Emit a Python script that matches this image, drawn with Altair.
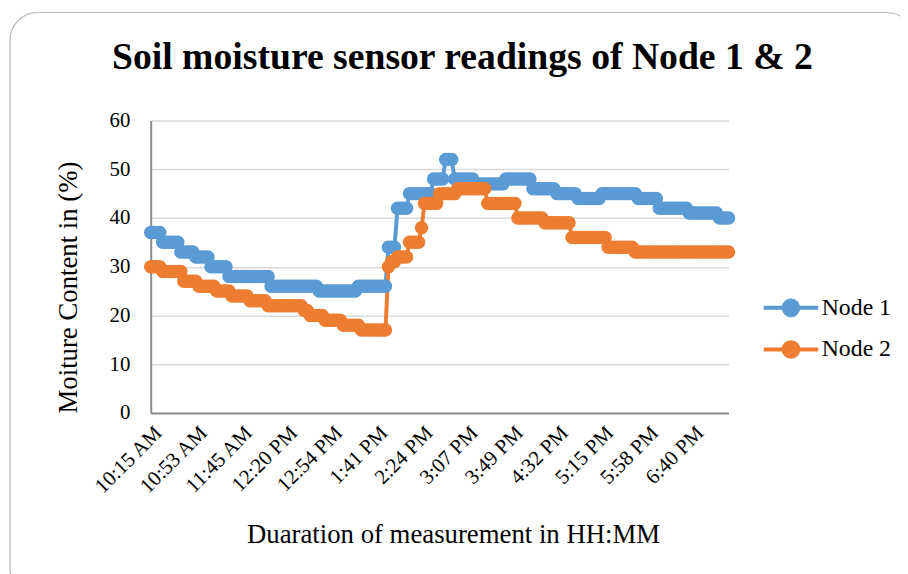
import altair as alt
import pandas as pd

# ---- data ----
series_names = ["Node 1", "Node 2"]
series_colors = ["#5B9BD5", "#ED7D31"]

node1 = [
    37, 37, 37, 37,
    35, 35, 35, 35, 35, 35,
    33, 33, 33, 33, 33,
    32, 32, 32, 32, 32,
    30, 30, 30, 30, 30, 30,
    28, 28, 28, 28, 28, 28, 28, 28, 28, 28, 28, 28, 28, 28,
    26, 26, 26, 26, 26, 26, 26, 26, 26, 26, 26, 26, 26, 26, 26, 26,
    25, 25, 25, 25, 25, 25, 25, 25, 25, 25, 25, 25, 25,
    26, 26, 26, 26, 26, 26, 26, 26, 26, 26,
    34, 34, 34,
    42, 42, 42, 42,
    45, 45, 45, 45, 45, 45, 45, 45,
    48, 48, 48, 48,
    52, 52, 52,
    48, 48, 48, 48, 48, 48, 48,
    47, 47, 47, 47, 47, 47, 47, 47, 47, 47,
    48, 48, 48, 48, 48, 48, 48, 48, 48,
    46, 46, 46, 46, 46, 46, 46, 46,
    45, 45, 45, 45, 45, 45, 45,
    44, 44, 44, 44, 44, 44, 44, 44,
    45, 45, 45, 45, 45, 45, 45, 45, 45, 45, 45, 45,
    44, 44, 44, 44, 44, 44, 44,
    42, 42, 42, 42, 42, 42, 42, 42, 42, 42,
    41, 41, 41, 41, 41, 41, 41, 41, 41, 41,
    40, 40, 40, 40,
]

node2 = [
    30, 30, 30, 30,
    29, 29, 29, 29, 29, 29, 29,
    27, 27, 27, 27, 27,
    26, 26, 26, 26, 26, 26,
    25, 25, 25, 25, 25,
    24, 24, 24, 24, 24, 24,
    23, 23, 23, 23, 23, 23,
    22, 22, 22, 22, 22, 22, 22, 22, 22, 22, 22, 22,
    21, 21,
    20, 20, 20, 20, 20,
    19, 19, 19, 19, 19, 19,
    18, 18, 18, 18, 18, 18,
    17, 17, 17, 17, 17, 17, 17, 17, 17,
    30,
    31, 31,
    32, 32, 32, 32,
    35, 35, 35, 35,
    38,
    43, 43, 43, 43, 43,
    45, 45, 45, 45, 45, 45,
    46, 46, 46, 46, 46, 46, 46, 46, 46, 46,
    43, 43, 43, 43, 43, 43, 43, 43, 43, 43,
    40, 40, 40, 40, 40, 40, 40, 40, 40,
    39, 39, 39, 39, 39, 39, 39, 39, 39,
    36, 36, 36, 36, 36, 36, 36, 36, 36, 36, 36, 36,
    34, 34, 34, 34, 34, 34, 34, 34, 34,
    33, 33, 33, 33, 33, 33, 33, 33, 33, 33, 33, 33, 33, 33, 33, 33,
    33, 33, 33, 33, 33, 33, 33, 33, 33, 33, 33, 33, 33, 33, 33, 33,
]

tick_labels = ["10:15 AM", "10:53 AM", "11:45 AM", "12:20 PM", "12:54 PM",
               "1:41 PM", "2:24 PM", "3:07 PM", "3:49 PM", "4:32 PM",
               "5:15 PM", "5:58 PM", "6:40 PM"]
tick_index = [0, 15, 30, 45, 60, 75, 90, 105, 120, 135, 150, 165, 180]
y_ticks = [0, 10, 20, 30, 40, 50, 60]

rows = []
for name, vals in zip(series_names, [node1, node2]):
    for i, v in enumerate(vals):
        rows.append({"idx": i, "value": v, "series": name})
df = pd.DataFrame(rows)

FONT = "Liberation Serif"
W, H = 583, 295
label_expr = f"{tick_labels}[indexof({tick_index}, datum.value)]"

# legend symbol: a line with a dot in its middle
LEGEND_SYMBOL = "M-2,0L2,0M0.54,0A0.54,0.54,0,1,1,-0.54,0A0.54,0.54,0,1,1,0.54,0Z"


def make_legend():
    return alt.Legend(
        title=None,
        orient="none",
        legendX=630,
        legendY=173,
        symbolType=LEGEND_SYMBOL,
        symbolSize=756,
        symbolStrokeWidth=4,
        symbolOpacity=1,
        labelFont=FONT,
        labelFontSize=24,
        labelColor="#000000",
        labelOffset=15,
        rowPadding=10,
    )


series_scale = alt.Scale(domain=series_names, range=series_colors)

x = alt.X(
    "idx:Q",
    scale=alt.Scale(domain=[0, len(node1) - 1], nice=False, zero=False),
    axis=alt.Axis(
        values=tick_index,
        labelExpr=label_expr,
        labelAngle=315,
        labelAlign="right",
        labelBaseline="top",
        labelFont=FONT,
        labelFontSize=21,
        labelColor="#000000",
        labelPadding=9,
        labelOverlap=False,
        labelFlush=False,
        ticks=False,
        grid=False,
        domainColor="#8C8C8C",
        domainWidth=2,
        title="Duaration of measurement in HH:MM",
        titleFont=FONT,
        titleFontSize=27,
        titleFontWeight="normal",
        titleColor="#000000",
        titleX=305,
        titleY=131,
        titleBaseline="alphabetic",
    ),
)

y = alt.Y(
    "value:Q",
    scale=alt.Scale(domain=[0, 60], nice=False),
    axis=alt.Axis(
        values=y_ticks,
        labelFont=FONT,
        labelFontSize=21,
        labelColor="#000000",
        labelPadding=21,
        ticks=False,
        grid=True,
        gridColor="#D9D9D9",
        gridWidth=1.5,
        domainColor="#8C8C8C",
        domainWidth=2,
        title="Moiture Content in (%)",
        titleFont=FONT,
        titleFontSize=27,
        titleFontWeight="normal",
        titleColor="#000000",
        titleX=-75,
        titleY=168,
        titleBaseline="alphabetic",
        titleAngle=270,
    ),
)

frame = alt.Chart(pd.DataFrame({"f": [0]})).mark_rect(
    filled=False, stroke="#B4B4B4", strokeWidth=1.2, cornerRadius=28
).encode(
    x=alt.value(-142), x2=alt.value(770), y=alt.value(-109), y2=alt.value(480)
)

lines = alt.Chart(df).mark_line(strokeWidth=4).encode(
    x=x, y=y,
    stroke=alt.Stroke("series:N", scale=series_scale, legend=make_legend()),
    detail="series:N",
)
points = alt.Chart(df).mark_circle(size=185, opacity=1).encode(
    x=x, y=y,
    fill=alt.Fill("series:N", scale=series_scale, legend=make_legend()),
)

chart = alt.layer(frame, lines, points).properties(
    width=W,
    height=H,
    padding={"left": 144, "top": 111, "right": 173, "bottom": 160},
    autosize=alt.AutoSizeParams(type="none"),
    background="white",
    title=alt.TitleParams(
        "Soil moisture sensor readings of Node 1 & 2",
        font=FONT,
        fontSize=38,
        fontWeight="bold",
        color="#000000",
        anchor="middle",
        dx=23,
        offset=-66,
    ),
).configure_view(stroke=None)

chart.save("out.html", embed_options={"renderer": "svg", "actions": False})
